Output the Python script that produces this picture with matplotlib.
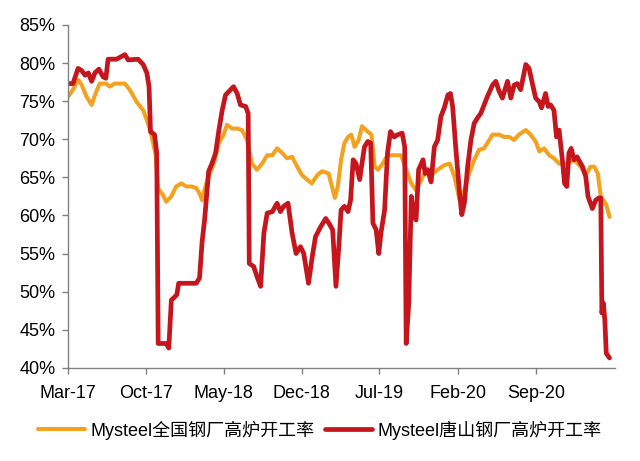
import pandas as pd
import matplotlib
matplotlib.use('Agg')
import matplotlib.pyplot as plt
import matplotlib.dates as mdates
from matplotlib.ticker import FuncFormatter

plt.rcParams['font.family'] = ['Liberation Sans', 'Noto Sans CJK SC']

# Mysteel national blast furnace utilisation (%)
nat_dates = [
    '2017-03-02', '2017-03-15', '2017-03-29', '2017-04-08', '2017-04-21', '2017-05-05',
    '2017-05-14', '2017-05-27', '2017-06-14', '2017-06-23', '2017-07-07', '2017-08-04',
    '2017-08-17', '2017-09-05', '2017-09-23', '2017-10-03', '2017-10-13', '2017-10-27',
    '2017-11-03', '2017-11-16', '2017-11-25', '2017-12-09', '2017-12-22', '2018-01-05',
    '2018-01-19', '2018-02-02', '2018-02-15', '2018-02-25', '2018-03-03', '2018-03-12',
    '2018-03-21', '2018-04-04', '2018-04-18', '2018-05-01', '2018-05-10', '2018-05-24',
    '2018-06-07', '2018-06-20', '2018-07-04', '2018-07-17', '2018-07-31', '2018-08-14',
    '2018-08-28', '2018-09-11', '2018-09-24', '2018-10-08', '2018-10-21', '2018-11-04',
    '2018-11-18', '2018-12-01', '2018-12-15', '2018-12-28', '2019-01-12', '2019-01-25',
    '2019-02-12', '2019-02-21', '2019-03-01', '2019-03-09', '2019-03-18', '2019-03-27',
    '2019-04-06', '2019-04-15', '2019-04-24', '2019-05-05', '2019-05-14', '2019-05-25',
    '2019-06-09', '2019-06-18', '2019-06-27', '2019-07-10', '2019-07-23', '2019-08-11',
    '2019-08-29', '2019-09-12', '2019-09-26', '2019-10-09', '2019-10-23', '2019-11-06',
    '2019-11-24', '2019-12-07', '2019-12-25', '2020-01-09', '2020-01-22', '2020-02-05',
    '2020-02-18', '2020-03-02', '2020-03-16', '2020-03-29', '2020-04-12', '2020-04-21',
    '2020-05-05', '2020-05-23', '2020-06-06', '2020-06-20', '2020-07-03', '2020-07-16',
    '2020-08-04', '2020-08-17', '2020-08-31', '2020-09-10', '2020-09-23', '2020-10-07',
    '2020-10-20', '2020-11-03', '2020-11-25', '2020-12-14', '2021-01-01', '2021-01-15',
    '2021-01-28', '2021-02-07', '2021-02-17', '2021-02-25', '2021-03-04', '2021-03-12',
    '2021-03-21',
]
nat_rate = [
    75.6, 76.5, 77.8, 77.1, 75.6, 74.5,
    75.8, 77.3, 77.3, 76.9, 77.3, 77.3,
    76.5, 74.9, 73.8, 72.5, 71.0, 68.0,
    63.5, 62.7, 61.8, 62.5, 63.8, 64.2,
    63.8, 63.8, 63.6, 62.8, 62.0, 63.8,
    65.1, 66.8, 69.5, 70.6, 71.9, 71.4,
    71.4, 71.2, 69.9, 66.8, 66.0, 66.8,
    67.9, 67.9, 68.8, 68.2, 67.5, 67.7,
    66.4, 65.3, 64.7, 64.2, 65.3, 65.8,
    65.5, 63.8, 62.3, 63.8, 67.3, 69.5,
    70.3, 70.6, 69.0, 69.9, 71.7, 71.2,
    70.6, 66.4, 66.0, 66.8, 67.9, 67.9,
    67.9, 66.0, 64.2, 63.3, 64.7, 66.0,
    65.5, 66.0, 66.6, 66.8, 65.1, 62.0,
    63.3, 65.5, 67.3, 68.6, 68.8, 69.5,
    70.6, 70.6, 70.3, 70.3, 69.9, 70.6,
    71.2, 70.6, 69.7, 68.4, 68.8, 67.9,
    67.5, 66.8, 66.8, 67.3, 66.4, 65.3,
    66.4, 66.4, 65.5, 62.5, 62.0, 61.4,
    59.8,
]

# Mysteel Tangshan blast furnace utilisation (%)
ts_dates = [
    '2017-03-02', '2017-03-15', '2017-03-29', '2017-04-08', '2017-04-17', '2017-04-26',
    '2017-05-05', '2017-05-14', '2017-05-25', '2017-06-05', '2017-06-13', '2017-06-19',
    '2017-07-12', '2017-08-04', '2017-08-13', '2017-09-09', '2017-09-23', '2017-10-03',
    '2017-10-09', '2017-10-13', '2017-10-24', '2017-10-30', '2017-11-03', '2017-11-25',
    '2017-12-02', '2017-12-09', '2017-12-18', '2017-12-24', '2017-12-29', '2018-02-15',
    '2018-02-24', '2018-03-03', '2018-03-10', '2018-03-21', '2018-03-30', '2018-04-09',
    '2018-04-18', '2018-04-27', '2018-05-06', '2018-05-20', '2018-05-28', '2018-06-07',
    '2018-06-16', '2018-06-30', '2018-07-07', '2018-07-10', '2018-07-22', '2018-07-31',
    '2018-08-10', '2018-08-19', '2018-08-28', '2018-09-11', '2018-09-24', '2018-10-03',
    '2018-10-12', '2018-10-24', '2018-11-04', '2018-11-15', '2018-11-27', '2018-12-06',
    '2018-12-19', '2018-12-28', '2019-01-07', '2019-01-21', '2019-02-04', '2019-02-15',
    '2019-02-23', '2019-03-04', '2019-03-12', '2019-03-18', '2019-03-27', '2019-04-06',
    '2019-04-13', '2019-04-20', '2019-04-28', '2019-05-08', '2019-05-14', '2019-05-21',
    '2019-05-30', '2019-06-07', '2019-06-13', '2019-06-22', '2019-06-29', '2019-07-05',
    '2019-07-15', '2019-07-23', '2019-07-31', '2019-08-10', '2019-08-20', '2019-09-01',
    '2019-09-08', '2019-09-12', '2019-09-19', '2019-09-26', '2019-10-03', '2019-10-09',
    '2019-10-16', '2019-10-28', '2019-11-03', '2019-11-10', '2019-11-19', '2019-11-28',
    '2019-12-07', '2019-12-16', '2019-12-25', '2020-01-04', '2020-01-11', '2020-01-17',
    '2020-01-26', '2020-02-05', '2020-02-11', '2020-02-18', '2020-02-27', '2020-03-07',
    '2020-03-16', '2020-03-25', '2020-04-03', '2020-04-12', '2020-04-21', '2020-05-05',
    '2020-05-14', '2020-05-23', '2020-06-01', '2020-06-15', '2020-06-24', '2020-07-03',
    '2020-07-12', '2020-07-21', '2020-08-04', '2020-08-13', '2020-08-22', '2020-08-31',
    '2020-09-10', '2020-09-16', '2020-09-27', '2020-10-04', '2020-10-11', '2020-10-20',
    '2020-10-27', '2020-11-03', '2020-11-12', '2020-11-18', '2020-11-24', '2020-11-30',
    '2020-12-06', '2020-12-14', '2020-12-22', '2021-01-06', '2021-01-15', '2021-01-21',
    '2021-02-02', '2021-02-11', '2021-02-20', '2021-02-25', '2021-02-28', '2021-03-04',
    '2021-03-08', '2021-03-12', '2021-03-21',
]
ts_rate = [
    77.3, 77.3, 79.3, 79.0, 78.4, 78.7,
    77.6, 78.7, 79.2, 78.2, 78.0, 80.5,
    80.5, 81.1, 80.4, 80.5, 79.8, 78.7,
    76.9, 71.0, 70.6, 68.2, 43.2, 43.2,
    42.6, 48.9, 49.3, 49.6, 51.1, 51.1,
    51.8, 56.5, 59.5, 65.8, 66.8, 68.2,
    71.2, 73.8, 75.8, 76.5, 76.9, 76.0,
    74.5, 74.3, 73.4, 53.7, 53.3, 52.0,
    50.7, 57.7, 60.3, 60.5, 61.6, 60.5,
    61.2, 61.6, 57.7, 55.0, 55.9, 55.0,
    51.1, 54.2, 57.2, 58.5, 59.6, 58.8,
    58.1, 50.7, 56.0, 60.7, 61.2, 60.5,
    62.0, 67.3, 66.8, 64.7, 66.8, 69.0,
    69.7, 69.5, 59.0, 58.1, 55.0, 57.7,
    60.7, 68.2, 71.0, 70.3, 70.6, 70.8,
    69.0, 43.2, 48.5, 62.5, 59.8, 59.4,
    66.0, 67.3, 65.5, 66.0, 64.4, 69.0,
    69.9, 73.0, 74.1, 75.8, 76.0, 74.3,
    68.6, 62.9, 60.1, 61.6, 66.4, 69.9,
    72.1, 72.8, 73.4, 74.5, 75.6, 77.1,
    77.6, 76.3, 75.4, 77.6, 75.4, 77.1,
    77.3, 76.5, 79.8, 79.3, 77.3, 75.4,
    74.9, 74.1, 76.0, 74.3, 74.5, 73.8,
    70.3, 71.2, 67.3, 64.2, 63.8, 68.2,
    68.8, 67.3, 67.7, 66.4, 65.1, 62.5,
    60.9, 62.0, 62.3, 62.3, 47.2, 48.5,
    46.3, 41.9, 41.3,
]

tick_dates = ['2017-03-01', '2017-10-01', '2018-05-01', '2018-12-01',
              '2019-07-01', '2020-02-01', '2020-09-01']

nat = pd.Series(nat_rate, index=pd.to_datetime(nat_dates))
ts = pd.Series(ts_rate, index=pd.to_datetime(ts_dates))

fig = plt.figure(figsize=(6.4, 4.61), dpi=100)
ax = fig.add_axes([0.106, 0.202, 0.855, 0.744])

ax.plot(nat.index, nat.values, color='#F4A11D', lw=2.9, solid_joinstyle='round',
        solid_capstyle='round', label='Mysteel全国钢厂高炉开工率')
ax.plot(ts.index, ts.values, color='#C4161C', lw=3.4, solid_joinstyle='round',
        solid_capstyle='round', label='Mysteel唐山钢厂高炉开工率')

ax.set_ylim(40, 85)
ax.set_yticks(range(40, 86, 5))
ax.yaxis.set_major_formatter(FuncFormatter(lambda v, p: f'{v:.0f}%'))
ax.set_xlim(pd.Timestamp('2017-03-01'), pd.Timestamp('2021-04-05'))
ax.set_xticks(pd.to_datetime(tick_dates))
ax.xaxis.set_major_formatter(mdates.DateFormatter('%b-%y'))

for side in ['top', 'right']:
    ax.spines[side].set_visible(False)
for side in ['left', 'bottom']:
    ax.spines[side].set_color('#808080')
    ax.spines[side].set_linewidth(1.0)
ax.tick_params(axis='both', colors='#808080', labelcolor='black', labelsize=13,
               length=4, width=1.0)
ax.tick_params(axis='x', pad=8)
ax.tick_params(axis='y', pad=5)

fig.legend(loc='center', bbox_to_anchor=(0.5, 0.067), ncol=2, frameon=False,
           fontsize=13, handlelength=2.6, handletextpad=0.3, columnspacing=0.6)

fig.savefig('out.png', dpi=100, facecolor='white')
